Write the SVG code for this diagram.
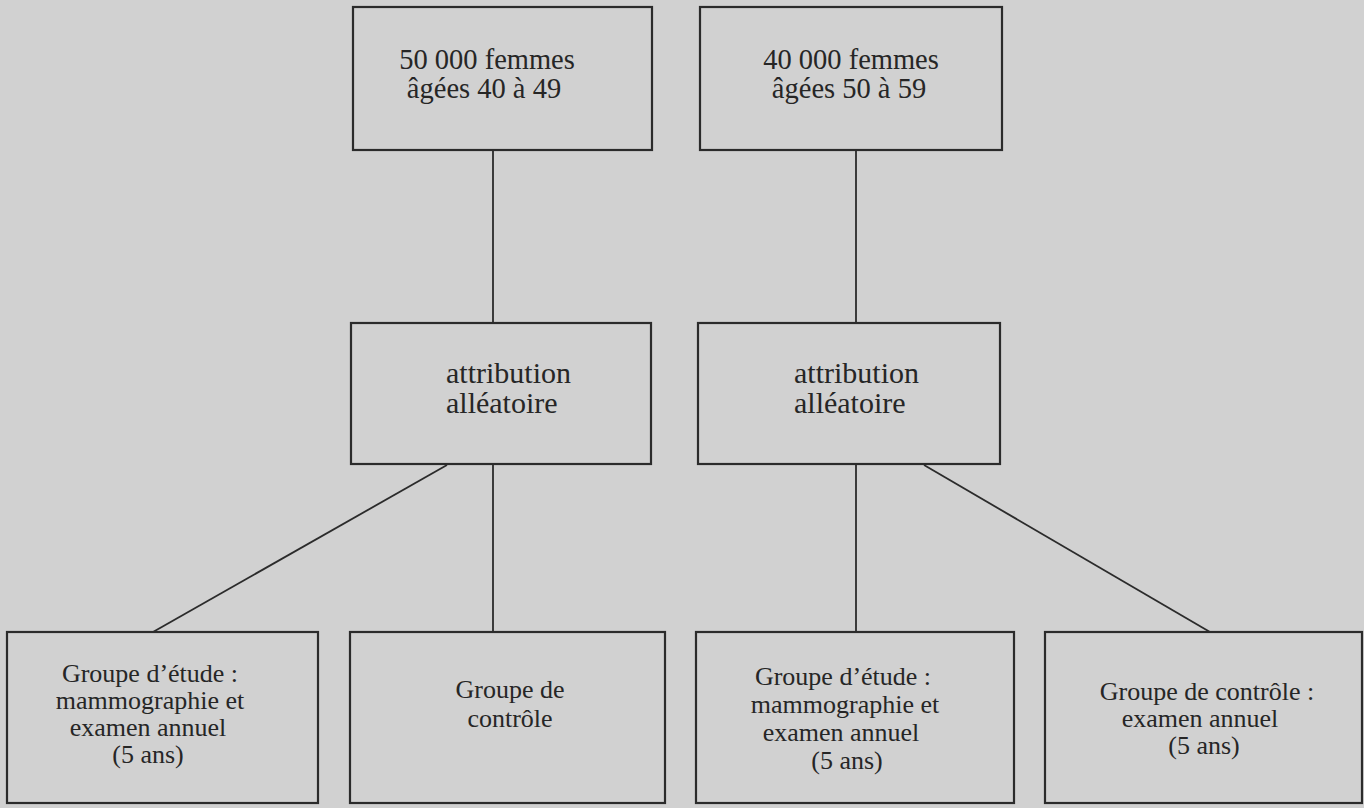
<svg xmlns="http://www.w3.org/2000/svg" width="1364" height="808" viewBox="0 0 1364 808">
<style>
.bg{fill:#d1d1d1}
.box{fill:none;stroke:#2b2b2b;stroke-width:2.2}
.ln{fill:none;stroke:#2b2b2b;stroke-width:1.8}
text{font-family:"Liberation Serif","Times New Roman",serif;fill:#262626;text-anchor:middle}
.big{font-size:28.5px}
.mid{font-size:30px;text-anchor:start}
.sm{font-size:26px}
</style>
<rect class="bg" x="0" y="0" width="1364" height="808"/>
<g id="connectors">
<line class="ln" x1="493" y1="150" x2="493" y2="323"/>
<line class="ln" x1="856" y1="150" x2="856" y2="323"/>
<line class="ln" x1="493" y1="464" x2="493" y2="632"/>
<line class="ln" x1="856" y1="464" x2="856" y2="632"/>
<line class="ln" x1="447" y1="465" x2="153" y2="632"/>
<line class="ln" x1="924" y1="465" x2="1210" y2="632"/>
</g>
<g id="node-50000">
<rect class="box" x="353" y="7" width="299" height="143"/>
<text class="big" x="487" y="69">50 000 femmes</text>
<text class="big" x="484" y="98">âgées 40 à 49</text>
</g>
<g id="node-40000">
<rect class="box" x="700" y="7" width="302" height="143"/>
<text class="big" x="851" y="69">40 000 femmes</text>
<text class="big" x="849" y="98">âgées 50 à 59</text>
</g>
<g id="node-attribution-1">
<rect class="box" x="351" y="323" width="300" height="141"/>
<text class="mid" x="446" y="383">attribution</text>
<text class="mid" x="446" y="413">alléatoire</text>
</g>
<g id="node-attribution-2">
<rect class="box" x="698" y="323" width="302" height="141"/>
<text class="mid" x="794" y="383">attribution</text>
<text class="mid" x="794" y="413">alléatoire</text>
</g>
<g id="node-etude-1">
<rect class="box" x="7" y="632" width="311" height="171"/>
<text class="sm" x="150" y="682">Groupe d’étude :</text>
<text class="sm" x="150" y="709">mammographie et</text>
<text class="sm" x="148" y="736">examen annuel</text>
<text class="sm" x="148" y="763">(5 ans)</text>
</g>
<g id="node-controle-1">
<rect class="box" x="350" y="632" width="315" height="171"/>
<text class="sm" x="510" y="698">Groupe de</text>
<text class="sm" x="510" y="727">contrôle</text>
</g>
<g id="node-etude-2">
<rect class="box" x="696" y="632" width="318" height="171"/>
<text class="sm" x="843" y="685">Groupe d’étude :</text>
<text class="sm" x="845" y="713">mammographie et</text>
<text class="sm" x="841" y="741">examen annuel</text>
<text class="sm" x="847" y="769">(5 ans)</text>
</g>
<g id="node-controle-2">
<rect class="box" x="1045" y="632" width="317" height="171"/>
<text class="sm" x="1207" y="700">Groupe de contrôle :</text>
<text class="sm" x="1200" y="727">examen annuel</text>
<text class="sm" x="1204" y="754">(5 ans)</text>
</g>
</svg>
